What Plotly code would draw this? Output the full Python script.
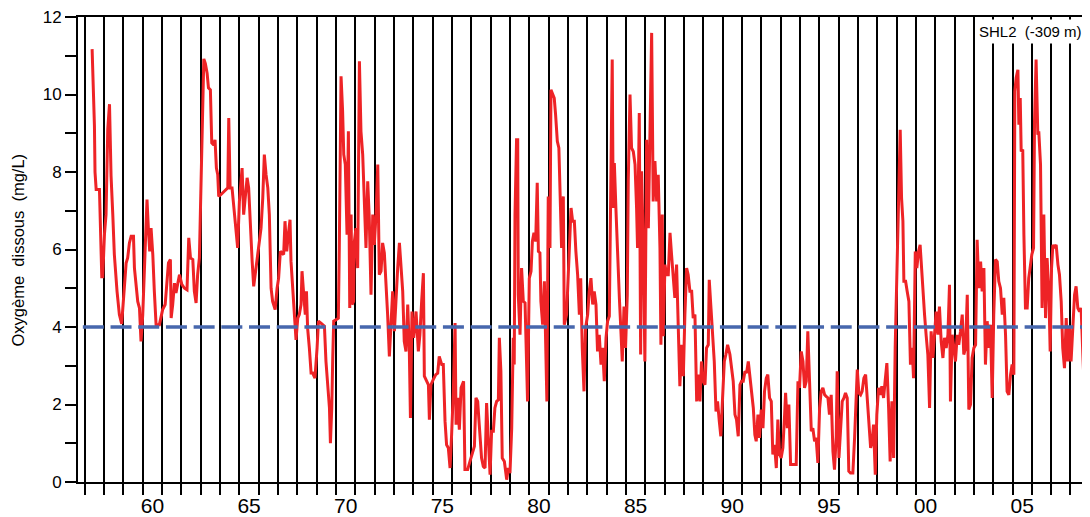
import plotly.graph_objects as go

# ---- data ----
time = [
    1957.38, 1957.50, 1957.53, 1957.59, 1957.76, 1957.81, 1957.88, 1957.93, 1958.02, 1958.10, 1958.19, 1958.28, 1958.36, 1958.45, 1958.53, 1958.67, 1958.79, 1958.91, 1959.05, 1959.14, 1959.22, 1959.31, 1959.40, 1959.52, 1959.57, 1959.66, 1959.74, 1959.83, 1959.91,
    1960.00, 1960.09, 1960.17, 1960.22, 1960.29, 1960.36, 1960.43, 1960.52, 1960.60, 1960.69, 1960.86, 1960.95, 1961.03, 1961.16, 1961.26, 1961.33, 1961.43, 1961.47, 1961.55, 1961.64, 1961.72, 1961.81, 1961.90,
    1962.02, 1962.16, 1962.29, 1962.38, 1962.47, 1962.59, 1962.67, 1962.76, 1962.84, 1962.93, 1962.98, 1963.05, 1963.10, 1963.16, 1963.24, 1963.33, 1963.40, 1963.50, 1963.57, 1963.67, 1963.74, 1963.81, 1963.88, 1963.93,
    1964.05, 1964.22, 1964.40, 1964.45, 1964.52, 1964.62, 1964.74, 1964.83, 1964.91, 1965.00, 1965.09, 1965.14, 1965.22, 1965.31, 1965.40, 1965.48, 1965.57, 1965.66, 1965.74, 1965.83, 1965.95,
    1966.03, 1966.12, 1966.21, 1966.29, 1966.38, 1966.47, 1966.55, 1966.64, 1966.72, 1966.85, 1966.95, 1967.03, 1967.12, 1967.21, 1967.29, 1967.36, 1967.45, 1967.53, 1967.62, 1967.67, 1967.76, 1967.85, 1967.93,
    1968.02, 1968.10, 1968.19, 1968.24, 1968.33, 1968.41, 1968.47, 1968.53, 1968.62, 1968.71, 1968.79, 1968.91, 1969.02, 1969.09, 1969.22, 1969.40, 1969.48, 1969.57, 1969.66, 1969.71, 1969.78, 1969.83, 1969.88,
    1970.00, 1970.12, 1970.17, 1970.26, 1970.34, 1970.40, 1970.48, 1970.57, 1970.64, 1970.71, 1970.78, 1970.83, 1970.91, 1970.95, 1971.03, 1971.12, 1971.21, 1971.29, 1971.38, 1971.47, 1971.55, 1971.64, 1971.72, 1971.81, 1971.90, 1971.98,
    1972.07, 1972.16, 1972.24, 1972.33, 1972.41, 1972.50, 1972.59, 1972.67, 1972.76, 1972.84, 1972.93, 1973.02, 1973.10, 1973.19, 1973.28, 1973.36, 1973.45, 1973.53, 1973.62, 1973.71, 1973.79, 1973.85, 1973.93, 1974.02, 1974.14,
    1974.26, 1974.34, 1974.43, 1974.52, 1974.57, 1974.69, 1974.78, 1974.83, 1974.91, 1975.03, 1975.16, 1975.26, 1975.34, 1975.47, 1975.55, 1975.64, 1975.72, 1975.81, 1975.90, 1975.98,
    1976.07, 1976.16, 1976.21, 1976.29, 1976.38, 1976.47, 1976.55, 1976.60, 1976.67, 1976.81, 1976.93, 1977.02, 1977.16, 1977.24, 1977.33, 1977.41, 1977.53, 1977.62, 1977.71, 1977.79, 1977.88, 1977.97,
    1978.05, 1978.14, 1978.22, 1978.31, 1978.40, 1978.45, 1978.53, 1978.60, 1978.71, 1978.78, 1978.83, 1978.91, 1979.00, 1979.09, 1979.17, 1979.22, 1979.26, 1979.34, 1979.40, 1979.43, 1979.52, 1979.60, 1979.69, 1979.78, 1979.86, 1979.91,
    1980.00, 1980.09, 1980.16, 1980.24, 1980.33, 1980.41, 1980.47, 1980.55, 1980.60, 1980.69, 1980.78, 1980.84, 1980.91, 1980.98, 1981.07, 1981.12, 1981.21, 1981.29, 1981.36, 1981.45, 1981.53, 1981.59, 1981.67, 1981.76, 1981.81, 1981.93,
    1982.02, 1982.10, 1982.16, 1982.24, 1982.33, 1982.41, 1982.50, 1982.59, 1982.66, 1982.74, 1982.83, 1982.91, 1983.02, 1983.10, 1983.19, 1983.28, 1983.36, 1983.45, 1983.53, 1983.62, 1983.71, 1983.79, 1983.88, 1983.97,
    1984.05, 1984.14, 1984.22, 1984.29, 1984.34, 1984.40, 1984.48, 1984.57, 1984.66, 1984.74, 1984.81, 1984.90, 1984.98, 1985.07, 1985.12, 1985.21, 1985.29, 1985.38, 1985.47, 1985.55, 1985.60, 1985.69, 1985.76, 1985.81, 1985.90, 1985.98,
    1986.07, 1986.16, 1986.24, 1986.33, 1986.41, 1986.50, 1986.59, 1986.67, 1986.76, 1986.81, 1986.88, 1986.93, 1987.02, 1987.10, 1987.19, 1987.28, 1987.36, 1987.45, 1987.53, 1987.62, 1987.71, 1987.79, 1987.88, 1987.97,
    1988.05, 1988.14, 1988.22, 1988.31, 1988.40, 1988.48, 1988.57, 1988.66, 1988.74, 1988.83, 1988.91, 1989.00, 1989.09, 1989.17, 1989.26, 1989.31, 1989.40, 1989.48, 1989.57, 1989.66, 1989.74, 1989.83, 1989.91,
    1990.00, 1990.09, 1990.17, 1990.26, 1990.38, 1990.47, 1990.55, 1990.64, 1990.72, 1990.81, 1990.90, 1990.98, 1991.07, 1991.16, 1991.24, 1991.33, 1991.41, 1991.50, 1991.59, 1991.67,
    1991.74, 1991.83, 1991.91, 1992.00, 1992.09, 1992.17, 1992.26, 1992.34, 1992.43, 1992.52, 1992.60, 1992.69, 1992.78, 1992.86, 1992.95,
    1993.03, 1993.12, 1993.21, 1993.26, 1993.35, 1993.43, 1993.52, 1993.64, 1993.81, 1993.90, 1993.98, 1994.07, 1994.16, 1994.24, 1994.33, 1994.41, 1994.50, 1994.59, 1994.67, 1994.76, 1994.84, 1994.93,
    1995.02, 1995.10, 1995.19, 1995.28, 1995.36, 1995.45, 1995.53, 1995.62, 1995.71, 1995.79, 1995.88, 1995.93, 1996.02, 1996.10, 1996.19, 1996.28, 1996.36, 1996.45, 1996.53, 1996.62, 1996.74, 1996.83, 1996.91, 1996.97,
    1997.05, 1997.14, 1997.22, 1997.31, 1997.40, 1997.48, 1997.57, 1997.66, 1997.74, 1997.81, 1997.90, 1997.98, 1998.07, 1998.16, 1998.24, 1998.33, 1998.41, 1998.50, 1998.59, 1998.67, 1998.76, 1998.85, 1998.93,
    1999.02, 1999.10, 1999.19, 1999.26, 1999.33, 1999.38, 1999.47, 1999.55, 1999.64, 1999.72, 1999.81, 1999.88, 1999.97, 2000.05, 2000.14, 2000.22, 2000.28, 2000.36, 2000.45, 2000.53, 2000.62, 2000.71, 2000.79, 2000.88, 2000.97,
    2001.05, 2001.14, 2001.22, 2001.31, 2001.40, 2001.48, 2001.57, 2001.66, 2001.74, 2001.79, 2001.88, 2001.97, 2002.05, 2002.14, 2002.22, 2002.31, 2002.40, 2002.48, 2002.57, 2002.66, 2002.74, 2002.83, 2002.91,
    2003.00, 2003.09, 2003.17, 2003.26, 2003.35, 2003.43, 2003.52, 2003.60, 2003.69, 2003.78, 2003.86, 2003.95, 2004.03, 2004.12, 2004.21, 2004.29, 2004.38, 2004.47, 2004.55, 2004.64, 2004.72, 2004.81, 2004.90, 2004.98,
    2005.07, 2005.12, 2005.19, 2005.28, 2005.33, 2005.40, 2005.45, 2005.53, 2005.59, 2005.67, 2005.76, 2005.84, 2005.91, 2006.00, 2006.09, 2006.14, 2006.22, 2006.31, 2006.36, 2006.45, 2006.53, 2006.62, 2006.71, 2006.79, 2006.88, 2006.95,
    2007.02, 2007.09, 2007.17, 2007.26, 2007.35, 2007.43, 2007.52, 2007.60, 2007.69, 2007.78, 2007.86, 2007.95, 2008.03, 2008.12, 2008.21, 2008.29, 2008.38, 2008.47, 2008.55, 2008.64, 2008.72, 2008.81, 2008.90, 2008.98,
]

oxygen = [
    11.17, 9.2, 8.0, 7.55, 7.55, 6.7, 5.3, 5.3, 6.4, 6.9, 9.1, 9.75, 7.9, 6.9, 5.87, 4.92, 4.32, 4.08, 5.0, 5.65, 5.78, 6.17, 6.34, 6.34, 5.52, 5.0, 4.66, 4.49, 3.63,
    4.32, 5.7, 6.9, 7.29, 6.55, 5.95, 6.55, 5.87, 4.92, 4.06, 4.06, 4.23, 4.45, 4.58, 5.18, 5.65, 5.74, 4.23, 4.58, 5.13, 4.88, 5.18, 5.35,
    5.1, 5.0, 4.96, 6.3, 5.78, 5.74, 4.92, 4.62, 5.35, 5.78, 6.9, 8.45, 10.17, 10.92, 10.8, 10.55, 10.17, 10.12, 8.75, 8.7, 8.83, 8.1, 7.93, 7.37,
    7.42, 7.5, 7.59, 9.39, 7.59, 7.59, 6.98, 6.55, 6.04, 7.24, 7.85, 8.1, 6.9, 7.42, 7.85, 7.59, 6.55, 5.7, 5.05, 5.44, 5.87,
    6.21, 6.55, 7.33, 8.45, 7.93, 7.59, 6.9, 5.0, 4.66, 4.45, 5.0, 5.26, 5.95, 5.91, 5.87, 6.73, 5.95, 6.38, 6.77, 5.7, 4.92, 4.06, 3.67,
    4.23, 4.32, 4.58, 5.44, 4.83, 4.32, 4.92, 3.97, 3.46, 2.81, 2.81, 2.68, 3.46, 4.15, 4.1, 4.02, 3.11, 2.43, 1.91, 1.0, 1.91, 3.2, 4.15,
    4.19, 4.23, 6.04, 10.47, 9.57, 8.45, 8.19, 6.38, 9.05, 4.49, 6.9, 4.58, 4.66, 6.21, 6.55, 5.52, 10.86, 9.05, 8.45, 7.24, 6.04, 7.76, 6.81, 4.83, 6.9, 6.12,
    6.9, 8.19, 5.35, 5.44, 6.17, 5.91, 5.18, 4.32, 3.24, 3.89, 4.92, 3.89, 4.75, 5.52, 6.17, 5.61, 4.92, 3.63, 3.37, 4.58, 3.46, 1.65, 4.4, 3.72, 4.4,
    3.37, 3.8, 4.66, 5.39, 2.73, 2.6, 2.51, 1.61, 2.51, 2.64, 2.77, 2.81, 3.24, 3.03, 3.03, 1.57, 0.96, 0.88, 0.36, 1.22,
    2.34, 4.1, 1.48, 2.17, 1.35, 2.43, 2.55, 2.6, 0.32, 0.32, 0.53, 0.71, 0.92, 2.17, 2.08, 1.48, 0.62, 0.4, 0.36, 2.04, 0.88, 0.19,
    1.31, 1.31, 1.91, 2.08, 2.12, 3.72, 2.86, 0.62, 0.53, 0.32, 0.06, 0.36, 0.23, 1.39, 3.72, 3.03, 6.9, 8.83, 8.83, 4.83, 3.8, 5.52, 4.66, 4.62, 3.37, 2.08,
    5.26, 5.44, 6.21, 6.43, 6.21, 7.72, 5.95, 5.91, 4.66, 4.06, 5.18, 3.89, 2.08, 7.37, 6.04, 10.12, 10.0, 9.91, 9.48, 8.79, 8.62, 7.59, 6.04, 7.37, 4.06, 4.32,
    5.44, 6.21, 7.07, 6.73, 6.73, 5.95, 5.35, 4.32, 5.26, 3.46, 2.34, 3.97, 4.32, 4.92, 5.26, 4.58, 4.92, 4.58, 3.37, 3.8, 3.03, 3.46, 2.6, 3.72,
    4.15, 4.28, 8.28, 10.9, 7.07, 8.23, 7.07, 5.61, 4.75, 3.89, 3.11, 4.53, 3.46, 4.83, 7.76, 10.0, 8.62, 8.53, 8.19, 7.07, 6.04, 9.52, 3.29, 8.02, 6.04, 3.11,
    8.83, 6.55, 8.96, 11.59, 7.24, 8.28, 7.24, 7.93, 6.04, 3.54, 6.9, 3.76, 5.61, 5.35, 5.35, 6.43, 5.87, 5.26, 4.75, 5.61, 4.15, 2.47, 3.54, 2.73,
    4.32, 5.52, 5.35, 4.92, 4.92, 4.23, 4.32, 2.08, 2.77, 2.08, 3.11, 2.6, 2.51, 3.46, 3.54, 5.22, 4.49, 3.89, 3.11, 1.82, 2.08, 1.57, 1.18,
    2.17, 3.11, 3.29, 3.54, 3.29, 2.94, 2.6, 1.74, 1.61, 1.18, 2.51, 2.6, 2.6, 2.86, 2.81, 3.11, 2.77, 2.25, 1.91, 1.22,
    1.05, 1.74, 1.14, 1.87, 1.39, 2.34, 2.68, 2.77, 2.17, 2.08, 0.71, 0.96, 0.36, 1.61, 0.71,
    0.62, 0.88, 1.74, 2.3, 1.39, 2.0, 0.45, 0.45, 0.45, 2.6, 2.43, 3.37, 3.11, 2.43, 2.6, 3.89, 2.43, 1.31, 1.39, 1.05, 1.14, 0.49,
    1.91, 2.34, 2.43, 2.25, 2.21, 2.17, 1.74, 2.25, 0.79, 0.32, 1.18, 2.86, 0.62, 1.48, 2.08, 2.17, 2.3, 2.17, 0.28, 0.23, 0.23, 1.14, 2.08, 2.9,
    2.3, 2.25, 2.34, 2.68, 2.77, 2.25, 1.57, 0.88, 1.05, 1.48, 0.19, 1.74, 2.43, 2.25, 2.47, 2.17, 2.6, 3.07, 1.91, 0.53, 2.08, 0.62, 3.46,
    5.18, 7.07, 9.09, 7.33, 6.73, 5.18, 5.18, 4.92, 4.66, 3.03, 3.46, 2.68, 5.95, 5.52, 5.95, 6.12, 5.61, 4.83, 4.32, 3.8, 3.29, 1.91, 3.89, 3.2, 3.97,
    4.4, 3.8, 4.53, 3.63, 3.2, 3.72, 3.46, 3.8, 5.09, 2.08, 3.8, 3.46, 3.11, 3.8, 3.54, 3.89, 4.32, 3.29, 3.46, 4.83, 1.87, 2.0, 3.2,
    3.46, 3.54, 6.25, 5.0, 5.69, 4.92, 5.52, 3.03, 4.15, 3.46, 4.06, 2.17, 4.32, 5.74, 5.69, 5.18, 5.0, 4.32, 4.75, 3.8, 2.34, 2.25, 2.77, 3.03,
    2.77, 10.08, 10.43, 10.64, 9.22, 9.91, 8.53, 8.58, 6.38, 4.49, 4.49, 5.26, 5.52, 5.87, 6.04, 9.31, 10.9, 8.96, 9.05, 8.19, 4.49, 6.9, 4.23, 5.78, 4.92, 3.37,
    5.52, 6.12, 6.04, 6.12, 5.61, 5.35, 4.66, 3.46, 2.94, 4.23, 3.11, 3.97, 3.11, 4.15, 4.83, 5.05, 4.49, 4.4, 4.49, 3.29, 2.34, 3.46, 3.37, 3.5,
]

threshold = 4.0                    # mg/L
threshold_span = [1956.9, 2009.01]
x_range = [1956.65, 2009.01]
y_range = [0, 12]
first_year_line = 1957
label_years = [1960, 1965, 1970, 1975, 1980, 1985, 1990, 1995, 2000, 2005]
label_text = ["60", "65", "70", "75", "80", "85", "90", "95", "00", "05"]
y_title = "Oxygème\u00a0 dissous\u00a0 (mg/L)"
station_label = "SHL2\u00a0\u00a0(-309\u00a0m)"

FONT = "Liberation Sans, Arial, Helvetica, sans-serif"

fig = go.Figure()
fig.add_trace(go.Scatter(
    x=time, y=oxygen, mode="lines",
    line=dict(color="#ee2326", width=3),
    hoverinfo="skip", showlegend=False,
))
fig.add_trace(go.Scatter(
    x=threshold_span, y=[threshold, threshold], mode="lines",
    line=dict(color="#4767ad", width=3.6, dash="21px,6.7px"),
    hoverinfo="skip", showlegend=False,
))

# The page body has an 8px margin, so the figure is sized/offset to land
# on the same pixels as the reference.
fig.update_layout(
    width=1082, height=509,
    margin=dict(l=70, r=0, t=9, b=35, pad=0),
    paper_bgcolor="white", plot_bgcolor="white",
    showlegend=False,
    font=dict(family=FONT, color="black"),
    xaxis=dict(
        range=x_range, automargin=False,
        tickmode="array",
        tickvals=[y + 0.5 for y in label_years],
        ticktext=label_text,
        ticks="outside", ticklen=4, tickcolor="rgba(0,0,0,0)",
        tickfont=dict(size=21, family=FONT, color="black"),
        ticklabeloverflow="allow",
        showgrid=False, zeroline=False,
        showline=True, linecolor="black", linewidth=2, mirror=True,
        minor=dict(
            tickmode="linear", tick0=first_year_line, dtick=1,
            ticks="outside", ticklen=11, tickwidth=2, tickcolor="black",
            showgrid=True, gridcolor="black", gridwidth=2,
        ),
    ),
    yaxis=dict(
        range=y_range, automargin=False,
        tickmode="linear", tick0=0, dtick=2,
        ticks="outside", ticklen=11, tickwidth=2, tickcolor="black",
        tickfont=dict(size=17, family=FONT, color="black"),
        ticklabeloverflow="allow",
        showgrid=False, zeroline=False,
        showline=True, linecolor="black", linewidth=2,
        minor=dict(dtick=1, ticks="outside", ticklen=11, tickwidth=2, tickcolor="black"),
    ),
    annotations=[
        dict(
            text=y_title, xref="paper", yref="paper",
            x=-0.0593, y=0.5, xanchor="center", yanchor="middle",
            textangle=-90, showarrow=False,
            font=dict(size=16.5, family=FONT, color="black"),
        ),
        dict(
            text=station_label, xref="paper", yref="paper",
            x=1.0, y=0.996, xanchor="right", yanchor="top",
            xshift=-4, showarrow=False,
            bgcolor="white", borderpad=3,
            font=dict(size=15, family=FONT, color="black"),
        ),
    ],
)

fig.write_html("out.html")
